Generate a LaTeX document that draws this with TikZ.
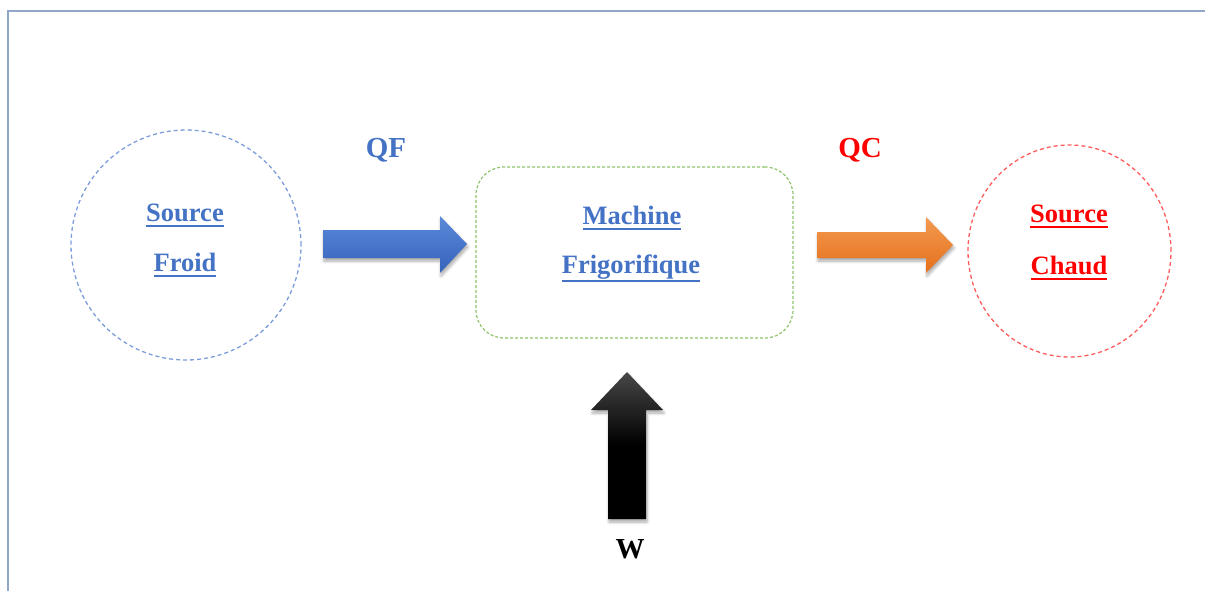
\documentclass[tikz,border=0pt]{standalone}
\usepackage{fontspec}
\setmainfont{Liberation Serif}
\usetikzlibrary{shapes.geometric,shadows.blur}

\definecolor{frameblue}{HTML}{8FA8C8}
\definecolor{txtblue}{HTML}{4472C4}
\definecolor{colddash}{HTML}{7C9DDA}
\definecolor{machgreen}{HTML}{8DC36B}
\definecolor{hotdash}{HTML}{FF5C5C}
\definecolor{qfhi}{HTML}{5A89D8}
\definecolor{qflo}{HTML}{3763BC}
\definecolor{qchi}{HTML}{F39A50}
\definecolor{qclo}{HTML}{E5701C}

% underlined word, Word-style: rule sits below descenders
\newdimen\ulpos
\newcommand\ulword[1]{\setbox0=\hbox{#1}%
  \ulpos=\dp0 \advance\ulpos by 3.5pt
  \ifdim\ulpos<6pt \ulpos=6pt\fi
  \leavevmode\rlap{\rule[-\ulpos]{\wd0}{2pt}}\box0}

\begin{document}
\begin{tikzpicture}[x=1pt,y=-1pt,
  lbl/.style={font=\fontsize{26.5}{30}\selectfont\bfseries, anchor=base, inner sep=0pt},
  flow/.style={font=\fontsize{29}{32}\selectfont\bfseries, anchor=base, inner sep=0pt},
  tank/.style={draw, dashed, line width=1.3pt, dash pattern=on 4pt off 3pt, inner sep=0pt},
  blockarrow/.style={blur shadow={shadow xshift=1pt, shadow yshift=-3pt, shadow blur steps=6, shadow blur radius=3pt, shadow opacity=35}}
]
\useasboundingbox (0,0) rectangle (1205,590);

% frame
\draw[frameblue, line width=1.5pt] (8,591) -- (8,11) -- (1206,11);

% reservoirs and machine
\node[tank, colddash, circle, minimum size=230pt] (cold) at (186,245) {};
\node[tank, hotdash, ellipse, minimum width=203pt, minimum height=212pt] (hot) at (1069.5,251) {};
\node[draw, machgreen, line width=1.2pt, dash pattern=on 3pt off 2pt, rounded corners=28pt,
      minimum width=317pt, minimum height=171pt, inner sep=0pt] (mach) at (634.5,252.5) {};

% labels
\node[lbl, txtblue] (coldA) at (185,221) {\ulword{Source}};
\node[lbl, txtblue] (coldB) at (185,271) {\ulword{Froid}};
\node[lbl, txtblue] (machA) at (632,224) {\ulword{Machine}};
\node[lbl, txtblue] (machB) at (631,273) {\ulword{Frigorifique}};
\node[lbl, red] (hotA) at (1069,222) {\ulword{Source}};
\node[lbl, red] (hotB) at (1069,274) {\ulword{Chaud}};

\node[flow, txtblue] (qf) at (386,157) {QF};
\node[flow, red] (qc) at (860,157) {QC};
\node[flow, black] (w) at (630,558) {W};

% heat flow QF: cold source -> machine
\path[blockarrow, top color=qfhi, bottom color=qflo]
  (323,230) -- (440,230) -- (440,216) -- (467,244) -- (440,273) -- (440,258) -- (323,258) -- cycle;

% heat flow QC: machine -> hot source
\path[blockarrow, top color=qchi, bottom color=qclo]
  (817,232) -- (926,232) -- (926,217) -- (953,245) -- (926,273) -- (926,258) -- (817,258) -- cycle;

% work W into the machine
\path[blockarrow, top color=black!72, bottom color=black, middle color=black]
  (608,519) -- (608,410) -- (591,410) -- (627,372) -- (663,410) -- (646,410) -- (646,519) -- cycle;
\end{tikzpicture}
\end{document}
